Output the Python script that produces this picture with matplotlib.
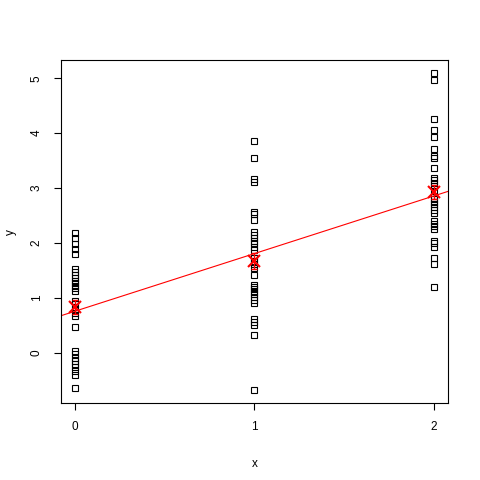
import numpy as np
import matplotlib
matplotlib.use("Agg")
import matplotlib.pyplot as plt

# group levels
groups = [0, 1, 2]

y0 = [2.18, 2.08, 1.98, 1.89, 1.79,
      1.53, 1.46, 1.41, 1.36, 1.31, 1.26, 1.22, 1.17, 1.12,
      0.94, 0.89, 0.79, 0.73, 0.66, 0.46,
      0.03, -0.03, -0.09, -0.15, -0.21, -0.27, -0.34, -0.40, -0.65]

y1 = [3.85, 3.55, 3.16, 3.11, 2.57, 2.52, 2.42,
      2.19, 2.14, 2.09, 2.04, 1.99, 1.93, 1.87,
      1.73, 1.67, 1.61, 1.55, 1.41,
      1.24, 1.20, 1.16, 1.11, 1.06, 1.01, 0.96, 0.91,
      0.61, 0.56, 0.51, 0.32, -0.69]

y2 = [5.10, 4.97, 4.26, 4.06, 3.92, 3.71, 3.59, 3.54, 3.37,
      3.19, 3.15, 3.09, 3.04, 2.95, 2.86, 2.80, 2.75, 2.70, 2.65, 2.60, 2.54,
      2.40, 2.35, 2.30, 2.25, 2.04, 1.99, 1.92, 1.73, 1.61, 1.20]

ys = [y0, y1, y2]
x_all = np.concatenate([np.full(len(v), g) for g, v in zip(groups, ys)])
y_all = np.concatenate([np.array(v) for v in ys])

plt.rcParams['font.family'] = ['Liberation Sans', 'DejaVu Sans']

fig = plt.figure(figsize=(4.8, 4.8), dpi=100)
ax = fig.add_axes([0.127, 0.160, 0.806, 0.715])

ax.plot(x_all, y_all, linestyle='none', marker='s', markersize=5,
        markerfacecolor='none', markeredgecolor='black', markeredgewidth=0.8)

# fitted line across the whole plot region
slope, inter = np.polyfit(x_all, y_all, 1)
xl = np.array([-0.2, 2.2])
ax.plot(xl, inter + slope * xl, color='red', linewidth=0.8)

# group means with standard errors
means = [np.mean(v) for v in ys]
ses = [0.8 * np.std(v, ddof=1) / np.sqrt(len(v)) for v in ys]
ax.errorbar(groups, means, yerr=ses, fmt='none', ecolor='red',
            elinewidth=1.0, capsize=2.5, capthick=1.0)
ax.plot(groups, means, linestyle='none', marker='x', markersize=8.5,
        color='red', markeredgewidth=1.5)

ymin, ymax = min(y_all), max(y_all)
pad = 0.04 * (ymax - ymin)
ax.set_xlim(-0.08, 2.08)
ax.set_ylim(ymin - pad, ymax + pad)

ax.set_xticks([0, 1, 2])
ax.set_yticks([0, 1, 2, 3, 4, 5])
ax.tick_params(direction='out', length=5, width=0.8, labelsize=8.5, pad=8)
for lab in ax.get_yticklabels():
    lab.set_rotation(90)
    lab.set_va('center')
for s in ax.spines.values():
    s.set_linewidth(0.8)

ax.set_xlabel('x', fontsize=8.5)
ax.set_ylabel('y', fontsize=8.5)
ax.xaxis.set_label_coords(0.5, -0.16)
ax.yaxis.set_label_coords(-0.115, 0.5)

fig.savefig('out.png', dpi=100)
